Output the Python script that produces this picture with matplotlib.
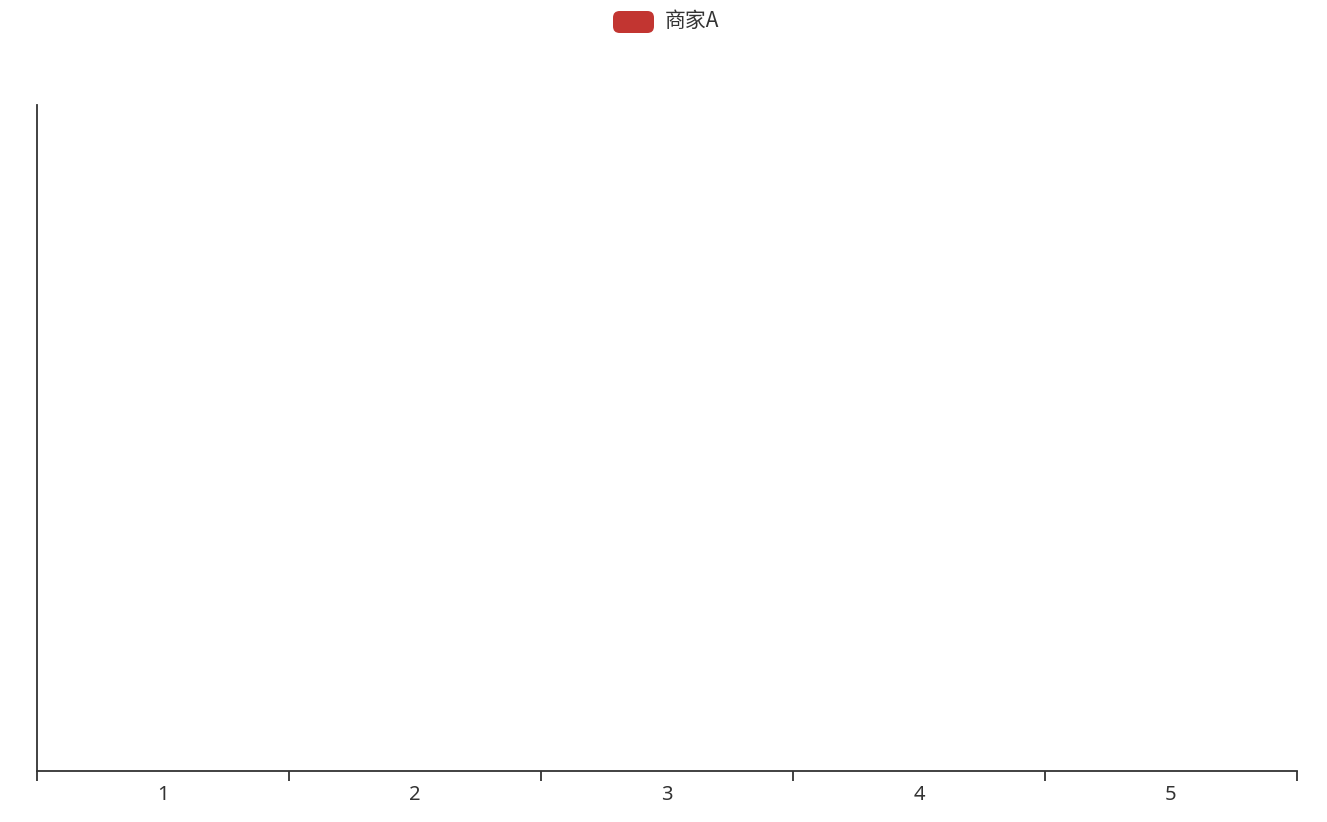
import matplotlib
matplotlib.use('Agg')
import matplotlib.pyplot as plt
from matplotlib.patches import FancyBboxPatch

plt.rcParams['font.family'] = ['Noto Sans CJK SC', 'DejaVu Sans']

# data: categories on the x axis, one series with no visible bars
categories = ['1', '2', '3', '4', '5']
series_name = '商家A'
values = [0, 0, 0, 0, 0]
bar_color = '#c23531'
axis_color = '#333333'

W, H = 1327, 822
fig = plt.figure(figsize=(W / 100, H / 100), dpi=100)
fig.patch.set_facecolor('white')

# plot area in pixels
left, right, top, bottom = 37, 1297, 105, 771
ax = fig.add_axes([left / W, (H - bottom) / H, (right - left) / W, (bottom - top) / H])

x = list(range(len(categories)))
ax.bar(x, values, width=0.6, color=bar_color, label=series_name)
ax.set_xlim(-0.5, len(categories) - 0.5)
ax.set_ylim(0, 1)

ax.set_xticks(x)
ax.set_xticklabels(categories, fontsize=14.5, color=axis_color,
                   family=['Noto Sans', 'Noto Sans CJK SC'])
ax.set_xticks([i - 0.5 for i in range(len(categories) + 1)], minor=True)
ax.tick_params(axis='x', which='major', length=0, pad=10)
ax.tick_params(axis='x', which='minor', length=7, width=1.3, color=axis_color)
ax.set_yticks([])

for side in ['top', 'right']:
    ax.spines[side].set_visible(False)
for side in ['left', 'bottom']:
    ax.spines[side].set_color(axis_color)
    ax.spines[side].set_linewidth(1.3)

# legend at the top centre
fig.add_artist(FancyBboxPatch((613 / W, (H - 33) / H), 41 / W, 22 / H,
                              boxstyle='round,pad=0,rounding_size=0.005',
                              transform=fig.transFigure, facecolor=bar_color,
                              edgecolor='none', mutation_aspect=W / H))
fig.text(665 / W, (H - 21) / H, series_name, fontsize=15, color=axis_color,
         ha='left', va='center', family=['Noto Sans CJK SC', 'DejaVu Sans'])

fig.savefig('out.png', dpi=100)
